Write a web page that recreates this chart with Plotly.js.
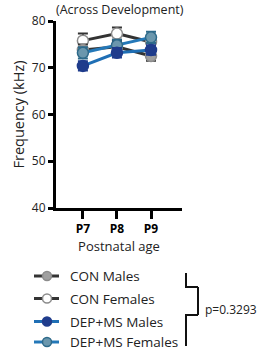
<!DOCTYPE html>
<html><head><meta charset="utf-8">
<script src="https://cdn.plot.ly/plotly-3.0.1.min.js"></script>
<style>html,body{margin:0;padding:0;background:#fff}#c{width:260px;height:352px}</style>
</head><body><div id="c"></div>
<script>
const ages = ["P7","P8","P9"];
const seriesNames = ["CON Males","CON Females","DEP+MS Males","DEP+MS Females"];
const conMales = [73.8, 74.5, 72.5];
const conMalesErr = [1.2, 1.2, 1.0];
const conFemales = [75.8, 77.3, 75.5];
const conFemalesErr = [1.5, 1.3, 1.3];
const depMales = [70.4, 73.2, 73.8];
const depMalesErr = [1.0, 1.0, 1.0];
const depFemales = [73.2, 74.8, 76.5];
const depFemalesErr = [1.2, 1.2, 1.2];
const yTicks = [40, 50, 60, 70, 80];
const pText = "p=0.3293";

const FONT = "'Open Sans', sans-serif";
const styles = [
  {line:"#333333", fill:"#a0a0a0", edge:"#8c8c8c", err:"#333333"},
  {line:"#333333", fill:"#ffffff", edge:"#8c8c8c", err:"#333333"},
  {line:"#1f6fb5", fill:"#1f3c8c", edge:"#1f3c8c", err:"#1f3c8c"},
  {line:"#2478b8", fill:"#6b97ad", edge:"#2e6a8a", err:"#2e6a8a"}
];
const vals = [conMales, conFemales, depMales, depFemales];
const errs = [conMalesErr, conFemalesErr, depMalesErr, depFemalesErr];

const traces = vals.map((v,i)=>({
  type:"scatter", mode:"lines+markers", x:[0,1,2], y:v, name:seriesNames[i],
  line:{color:styles[i].line, width:3},
  marker:{size:11, color:styles[i].fill, line:{color:styles[i].edge, width:1.5}},
  error_y:{type:"data", array:errs[i], visible:true, color:styles[i].err, thickness:2, width:5},
  showlegend:false, cliponaxis:false
}));
const order = [1,0,3,2];
const data = order.map(i=>traces[i]);

const L=56, R=182, T=21, B=208;
const px = x => (x-L)/(R-L);
const py = y => (B-y)/(B-T);

const shapes = [];
const annotations = [];
const rowY = [276, 298.5, 321.5, 342];
seriesNames.forEach((n,i)=>{
  shapes.push({type:"line", xref:"paper", yref:"paper", x0:px(34), x1:px(59), y0:py(rowY[i]), y1:py(rowY[i]), line:{color:styles[i].line, width:3}});
  shapes.push({type:"circle", xref:"paper", yref:"paper", x0:px(42.5), x1:px(51.5), y0:py(rowY[i]+4.5), y1:py(rowY[i]-4.5), fillcolor:styles[i].fill, line:{color:styles[i].edge, width:1.5}});
  annotations.push({xref:"paper", yref:"paper", x:px(68), y:py(rowY[i]), xanchor:"left", yanchor:"middle", text:n, showarrow:false, font:{family:FONT, size:13.5, color:"#222"}});
});
const bl = {color:"#111", width:2};
shapes.push({type:"line", xref:"paper", yref:"paper", x0:px(186), x1:px(186), y0:py(273), y1:py(288), line:bl});
shapes.push({type:"line", xref:"paper", yref:"paper", x0:px(186), x1:px(198), y0:py(287), y1:py(287), line:bl});
shapes.push({type:"line", xref:"paper", yref:"paper", x0:px(198), x1:px(198), y0:py(287), y1:py(315), line:bl});
shapes.push({type:"line", xref:"paper", yref:"paper", x0:px(186), x1:px(198), y0:py(315), y1:py(315), line:bl});
shapes.push({type:"line", xref:"paper", yref:"paper", x0:px(186), x1:px(186), y0:py(314), y1:py(346), line:bl});
annotations.push({xref:"paper", yref:"paper", x:px(203), y:py(309), xanchor:"left", yanchor:"middle", text:pText, showarrow:false, font:{family:FONT, size:12, color:"#222"}});
annotations.push({xref:"paper", yref:"paper", x:px(120), y:py(10), xanchor:"center", yanchor:"middle", text:"(Across Development)", showarrow:false, font:{family:FONT, size:12.5, color:"#222"}});

const layout = {
  width:260, height:352,
  margin:{l:L, r:260-R, t:T, b:352-B},
  paper_bgcolor:"#fff", plot_bgcolor:"#fff",
  xaxis:{range:[-0.79, 2.91], tickvals:[0,1,2], ticktext:ages, showgrid:false, zeroline:false,
    showline:true, linecolor:"#000", linewidth:3, ticks:"outside", ticklen:8, tickwidth:3, tickcolor:"#000",
    tickfont:{family:FONT, size:12, color:"#000", weight:"bold"},
    title:{text:"Postnatal age", font:{family:FONT, size:13, color:"#222"}, standoff:2}},
  yaxis:{range:[40,80], tickvals:yTicks, showgrid:false, zeroline:false,
    showline:true, linecolor:"#000", linewidth:3, ticks:"outside", ticklen:5, tickwidth:3, tickcolor:"#000",
    tickfont:{family:FONT, size:12, color:"#222"},
    title:{text:"Frequency (kHz)", font:{family:FONT, size:14.5, color:"#222"}, standoff:4}},
  shapes:shapes, annotations:annotations, showlegend:false
};
Plotly.newPlot("c", data, layout, {displayModeBar:false, staticPlot:true});
</script></body></html>
